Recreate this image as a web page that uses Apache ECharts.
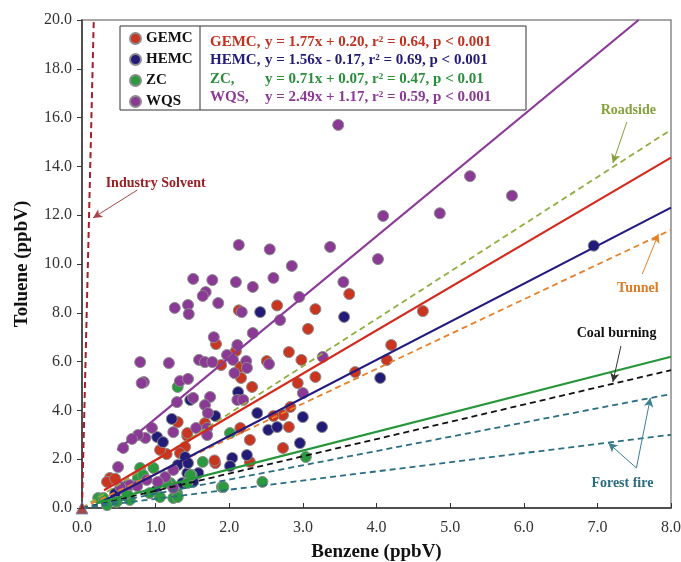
<!DOCTYPE html>
<html>
<head>
<meta charset="utf-8">
<script src="https://cdn.jsdelivr.net/npm/echarts@6/dist/echarts.min.js"></script>
<style>
html,body{margin:0;padding:0;background:#fff}
#chart{width:681px;height:562px}
</style>
</head>
<body>
<div id="chart"></div>
<script>
// benzene / toluene pairs, ppbV
var gemcData = [[4.63,8.07],[3.63,8.77],[2.13,8.1],[2.65,8.3],[3.17,8.15],[3.07,7.34],[1.82,6.72],[2.09,6.43],[2.81,6.39],[2.51,6.02],[2.98,6.07],[4.2,6.68],[4.14,6.07],[1.89,5.86],[2.16,5.33],[3.17,5.37],[3.71,5.57],[2.93,5.12],[2.31,4.96],[2.83,4.14],[2.73,3.81],[2.6,3.77],[2.81,3.32],[2.73,2.46],[2.15,3.28],[2.28,2.79],[1.81,1.84],[2.28,1.89],[1.3,3.52],[1.67,3.48],[1.43,2.95],[1.15,2.21],[1.06,2.38],[1.43,3.07],[1.4,2.5],[1.33,2.25],[0.38,1.23],[0.34,1.07],[0.45,1.2],[1.8,1.95],[2.15,5.78]];
var hemcData = [[6.95,10.75],[2.42,8.03],[3.56,7.83],[4.05,5.33],[2.12,4.75],[1.47,4.43],[1.22,3.65],[1.81,3.77],[1.02,2.91],[1.1,2.7],[1.4,2.09],[1.43,1.43],[1.58,1.43],[2.04,2.05],[2.24,2.17],[2.01,1.72],[2.38,3.89],[2.53,3.2],[2.65,3.32],[2.96,2.66],[3.0,3.73],[3.26,3.32],[1.51,1.07],[1.36,1.02],[1.3,1.76],[1.44,1.84],[0.6,0.9],[1.0,0.7],[0.45,0.6]];
var zcData = [[1.3,4.96],[2.01,3.07],[1.64,1.89],[1.9,0.86],[2.45,1.07],[3.04,2.09],[0.97,1.64],[0.79,1.64],[0.76,1.23],[1.49,1.35],[1.29,0.61],[1.24,0.41],[1.06,0.45],[0.65,0.33],[0.34,0.12],[0.47,0.25],[0.22,0.41],[1.43,1.02],[1.2,1.02],[0.92,0.61],[0.61,0.61],[1.15,1.02],[1.3,0.45],[0.29,0.41],[1.92,0.86],[1.47,1.35],[0.83,1.35]];
var wqsData = [[3.48,15.7],[5.27,13.6],[4.09,11.97],[4.86,12.08],[5.84,12.8],[4.02,10.2],[2.13,10.78],[2.55,10.6],[3.37,10.7],[2.85,9.92],[1.51,9.39],[1.77,9.34],[2.09,9.26],[2.32,9.06],[2.6,9.43],[3.55,9.26],[1.68,8.85],[1.64,8.69],[1.85,8.4],[1.26,8.2],[1.44,8.32],[1.45,7.95],[2.95,8.65],[2.17,8.03],[2.32,7.17],[1.79,7.0],[2.11,6.68],[2.69,7.7],[0.79,5.98],[1.18,5.94],[1.59,6.07],[1.67,5.98],[1.77,5.98],[1.97,6.27],[2.05,6.07],[2.23,6.02],[2.24,5.74],[2.07,5.53],[2.54,5.9],[3.27,6.19],[0.84,5.16],[0.81,5.12],[1.33,5.2],[1.44,5.29],[2.11,4.43],[2.19,4.43],[1.51,4.51],[1.74,4.55],[1.67,4.22],[1.71,3.89],[1.29,4.34],[3.0,4.71],[0.95,3.28],[0.86,2.87],[0.76,2.99],[0.68,2.83],[0.56,2.46],[0.49,1.68],[1.55,3.28],[1.7,3.28],[1.24,3.11],[1.7,2.99],[1.24,1.56],[1.13,1.27],[0.88,1.15],[1.03,1.07],[0.65,0.94],[0.52,0.86],[1.24,0.82],[0.75,0.9]];

// fitted lines (end points)
var gemcFit = [[0.3,0.73],[8,14.36]];
var hemcFit = [[0.3,0.3],[8,12.31]];
var zcFit = [[0.2,0.2],[8,6.2]];
var wqsFit = [[0.48,2.37],[7.56,20]];

// source ratio lines
var solventLine = [[0,0],[0.16,20]];
var roadsideLine = [[0,0],[8,15.5]];
var tunnelLine = [[0,0],[8,11.4]];
var coalLine = [[0,0],[8,5.65]];
var forestLineA = [[0,0],[8,4.67]];
var forestLineB = [[0,0],[8,3.0]];

var groupNames = ['GEMC','HEMC','ZC','WQS'];
var fitNames = ['GEMC,','HEMC,','ZC,','WQS,'];
var fitTexts = ['y = 1.77x + 0.20, r\u00b2 = 0.64, p < 0.001','y = 1.56x - 0.17, r\u00b2 = 0.69, p < 0.001','y = 0.71x + 0.07, r\u00b2 = 0.47, p < 0.01','y = 2.49x + 1.17, r\u00b2 = 0.59, p < 0.001'];

var SERIF = 'Liberation Serif, Times New Roman, serif';
var dotColors = ['#c9351f','#221c78','#2a9a3e','#8a3a94'];
var textColors = ['#c0311f','#221c78','#2a8f3a','#8a3a94'];

var chart = echarts.init(document.getElementById('chart'));

function dots(name, data, color){
    return {
        name: name, type: 'scatter', data: data, symbolSize: 11, clip: false, z: 2,
        itemStyle: {color: color, borderColor: '#8c8c8c', borderWidth: 1, opacity: 1}
    };
}
function seg(data, color, width, dashed, extra){
    var s = {
        type: 'line', data: data, symbol: 'none', silent: true, z: 3,
        lineStyle: {color: color, width: width, type: dashed ? [6,4] : 'solid'}
    };
    return Object.assign(s, extra || {});
}
function note(text, coord, color){
    return {
        symbol: 'circle', symbolSize: 0, silent: true,
        data: [{coord: coord, value: 0}],
        label: {show: true, position: 'inside', formatter: text, color: color,
            fontFamily: SERIF, fontWeight: 'bold', fontSize: 14}
    };
}
function arrows(list, color){
    return {
        silent: true, symbol: ['none','arrow'], symbolSize: [7,9],
        lineStyle: {color: color, width: 1, type: 'solid'},
        label: {show: false}, emphasis: {disabled: true}, animation: false,
        data: list.map(function(a){ return [{coord: a[0]}, {coord: a[1]}]; })
    };
}

var graphic = [
    {type: 'rect', z: 5, shape: {x: 120, y: 26, width: 406, height: 84}, style: {fill: '#fff', stroke: '#333', lineWidth: 1}},
    {type: 'line', z: 6, shape: {x1: 200, y1: 26, x2: 200, y2: 110}, style: {stroke: '#333', lineWidth: 1}}
];
var rowY = [42, 60, 79, 97];
for (var i = 0; i < 4; i++) {
    graphic.push({type: 'text', z: 21, x: 210, y: rowY[i], style: {text: fitNames[i], fill: textColors[i],
        font: 'bold 15px ' + SERIF, verticalAlign: 'middle'}});
    graphic.push({type: 'text', z: 21, x: 265, y: rowY[i], style: {text: fitTexts[i], fill: textColors[i],
        font: 'bold 15px ' + SERIF, verticalAlign: 'middle'}});
}

var option = {
    animation: false,
    backgroundColor: '#fff',
    grid: {left: 82, right: 10, top: 20, bottom: 54, outerBoundsMode: 'none', containLabel: false,
        show: true, borderColor: '#8a8a8a', borderWidth: 1.5},
    legend: {
        data: groupNames, orient: 'vertical', left: 124, top: 26, z: 20,
        icon: 'circle', itemWidth: 11, itemHeight: 11, itemGap: 6,
        textStyle: {fontFamily: SERIF, fontWeight: 'bold', fontSize: 15, color: '#111', lineHeight: 15}
    },
    xAxis: {
        type: 'value', min: 0, max: 8, interval: 1,
        name: 'Benzene (ppbV)', nameLocation: 'middle', nameGap: 35,
        nameTextStyle: {fontFamily: SERIF, fontWeight: 'bold', fontSize: 19, color: '#111'},
        axisLine: {onZero: false, lineStyle: {color: '#333', width: 1.5}},
        axisTick: {inside: true, length: 5, lineStyle: {color: '#333'}},
        axisLabel: {formatter: function(v){ return v.toFixed(1); }, fontFamily: SERIF, fontSize: 16, color: '#333', margin: 12},
        splitLine: {show: false}
    },
    yAxis: {
        type: 'value', min: 0, max: 20, interval: 2,
        name: 'Toluene (ppbV)', nameLocation: 'middle', nameGap: 50,
        nameTextStyle: {fontFamily: SERIF, fontWeight: 'bold', fontSize: 19, color: '#111'},
        axisLine: {show: true, onZero: false, lineStyle: {color: '#333', width: 1.5}},
        axisTick: {show: true, inside: false, length: 5, lineStyle: {color: '#333'}},
        axisLabel: {formatter: function(v){ return v.toFixed(1); }, fontFamily: SERIF, fontSize: 16, color: '#333', margin: 10},
        splitLine: {show: false}
    },
    graphic: graphic,
    series: [
        dots('GEMC', gemcData, dotColors[0]),
        dots('HEMC', hemcData, dotColors[1]),
        dots('ZC', zcData, dotColors[2]),
        dots('WQS', wqsData, dotColors[3]),
        seg(solventLine, '#a31f2a', 2, true, {
            markPoint: note('Industry Solvent', [1.0, 13.3], '#9a1f25'),
            markLine: arrows([[[0.75, 13.03], [0.15, 11.89]]], '#a8454a')
        }),
        seg(roadsideLine, '#8fae3f', 1.8, true, {
            markPoint: note('Roadside', [7.42, 16.3], '#84a23a'),
            markLine: arrows([[[7.40, 15.82], [7.21, 14.14]]], '#84a23a')
        }),
        seg(tunnelLine, '#e8802a', 1.8, true, {
            markPoint: note('Tunnel', [7.55, 8.98], '#df7a26'),
            markLine: arrows([[[7.61, 9.59], [7.83, 11.23]]], '#e8802a')
        }),
        seg(coalLine, '#111', 1.8, true, {
            markPoint: note('Coal burning', [7.26, 7.17], '#111'),
            markLine: arrows([[[7.32, 6.64], [7.21, 5.16]]], '#333')
        }),
        seg(forestLineA, '#2a6e82', 1.8, true, {
            markPoint: note('Forest fire', [7.34, 1.02], '#2b6c80'),
            markLine: arrows([[[7.53, 1.64], [7.72, 4.51]], [[7.53, 1.64], [7.15, 2.66]]], '#3b7f92')
        }),
        seg(forestLineB, '#2a6e82', 1.8, true),
        seg(gemcFit, '#d42a1e', 2.2, false),
        seg(hemcFit, '#231b80', 2.2, false),
        seg(zcFit, '#27963a', 2.2, false),
        seg(wqsFit, '#8b3a98', 2.2, false),
        {
            type: 'scatter', silent: true, clip: false, z: 4,
            data: [[0, 0]], symbol: 'triangle', symbolSize: 12,
            itemStyle: {color: '#8e1b1b', borderColor: '#5a8fb8', borderWidth: 1}
        }
    ]
};
chart.setOption(option);
</script>
</body>
</html>
